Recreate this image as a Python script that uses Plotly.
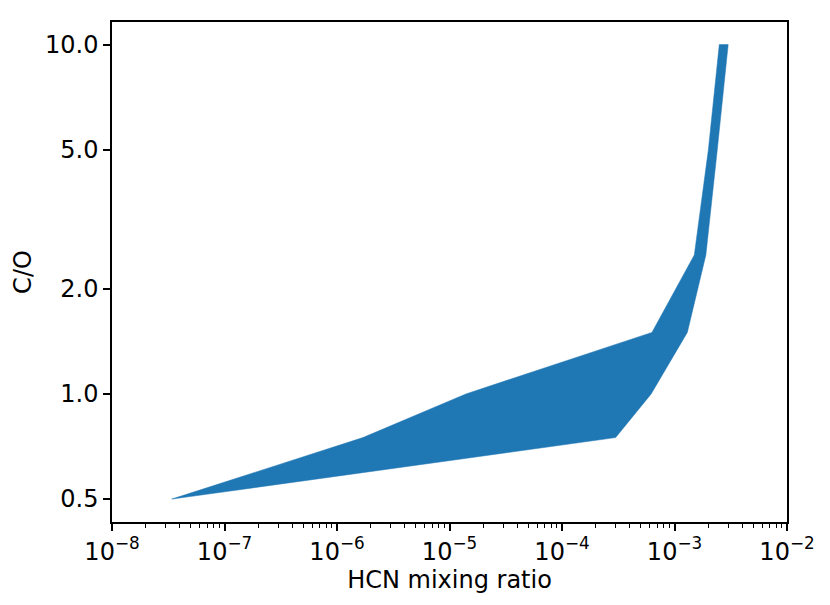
import plotly.graph_objects as go

# C/O ratio and the HCN mixing ratio range at each value
co_ratio = [0.5, 0.75, 1.0, 1.5, 2.5, 5.0, 10.0]
hcn_min = [3.4e-8, 1.7e-6, 1.4e-5, 6.3e-4, 1.5e-3, 2.0e-3, 2.5e-3]
hcn_max = [3.4e-8, 3.0e-4, 6.2e-4, 1.3e-3, 1.9e-3, 2.4e-3, 3.0e-3]

x_ticks = [1e-8, 1e-7, 1e-6, 1e-5, 1e-4, 1e-3, 1e-2]
x_ticktext = ["10<sup>\u22128</sup>", "10<sup>\u22127</sup>", "10<sup>\u22126</sup>",
              "10<sup>\u22125</sup>", "10<sup>\u22124</sup>", "10<sup>\u22123</sup>",
              "10<sup>\u22122</sup>"]
y_ticks = [0.5, 1.0, 2.0, 5.0, 10.0]
y_ticktext = ["0.5", "1.0", "2.0", "5.0", "10.0"]

minor_x = [m * 10.0 ** e for e in range(-8, -2) for m in range(2, 10)]

blue = "#1f77b4"
font = "DejaVu Sans"

fig = go.Figure()
fig.add_trace(go.Scatter(
    x=hcn_min + hcn_max[::-1],
    y=co_ratio + co_ratio[::-1],
    fill="toself", fillcolor=blue, mode="lines",
    line=dict(color=blue, width=0.5), hoverinfo="skip", showlegend=False))

# page body has an 8px margin, so offsets are shifted by 8
fig.update_layout(
    width=830, height=605,
    margin=dict(l=104, r=51, t=12, b=91),
    paper_bgcolor="white", plot_bgcolor="white",
    font=dict(family=font, size=24, color="black"),
    showlegend=False,
)
fig.update_xaxes(
    type="log", range=[-8, -2],
    tickvals=x_ticks, ticktext=x_ticktext,
    ticks="outside", ticklen=7, tickwidth=1.5, tickcolor="black",
    minor=dict(tickvals=minor_x, ticks="outside", ticklen=4, tickwidth=1.1,
               tickcolor="black", showgrid=False),
    showline=True, linecolor="black", linewidth=1.5, mirror=True,
    showgrid=False, zeroline=False,
    tickfont=dict(size=24),
    title=dict(text="HCN mixing ratio", font=dict(size=24), standoff=5),
)
fig.update_yaxes(
    type="log", range=[-0.3666, 1.0647],
    tickvals=y_ticks, ticktext=y_ticktext,
    ticks="outside", ticklen=7, tickwidth=1.5, tickcolor="black",
    showline=True, linecolor="black", linewidth=1.5, mirror=True,
    showgrid=False, zeroline=False,
    tickfont=dict(size=24),
    title=dict(text="C/O", font=dict(size=24), standoff=7),
)

fig.write_html("out.html")
